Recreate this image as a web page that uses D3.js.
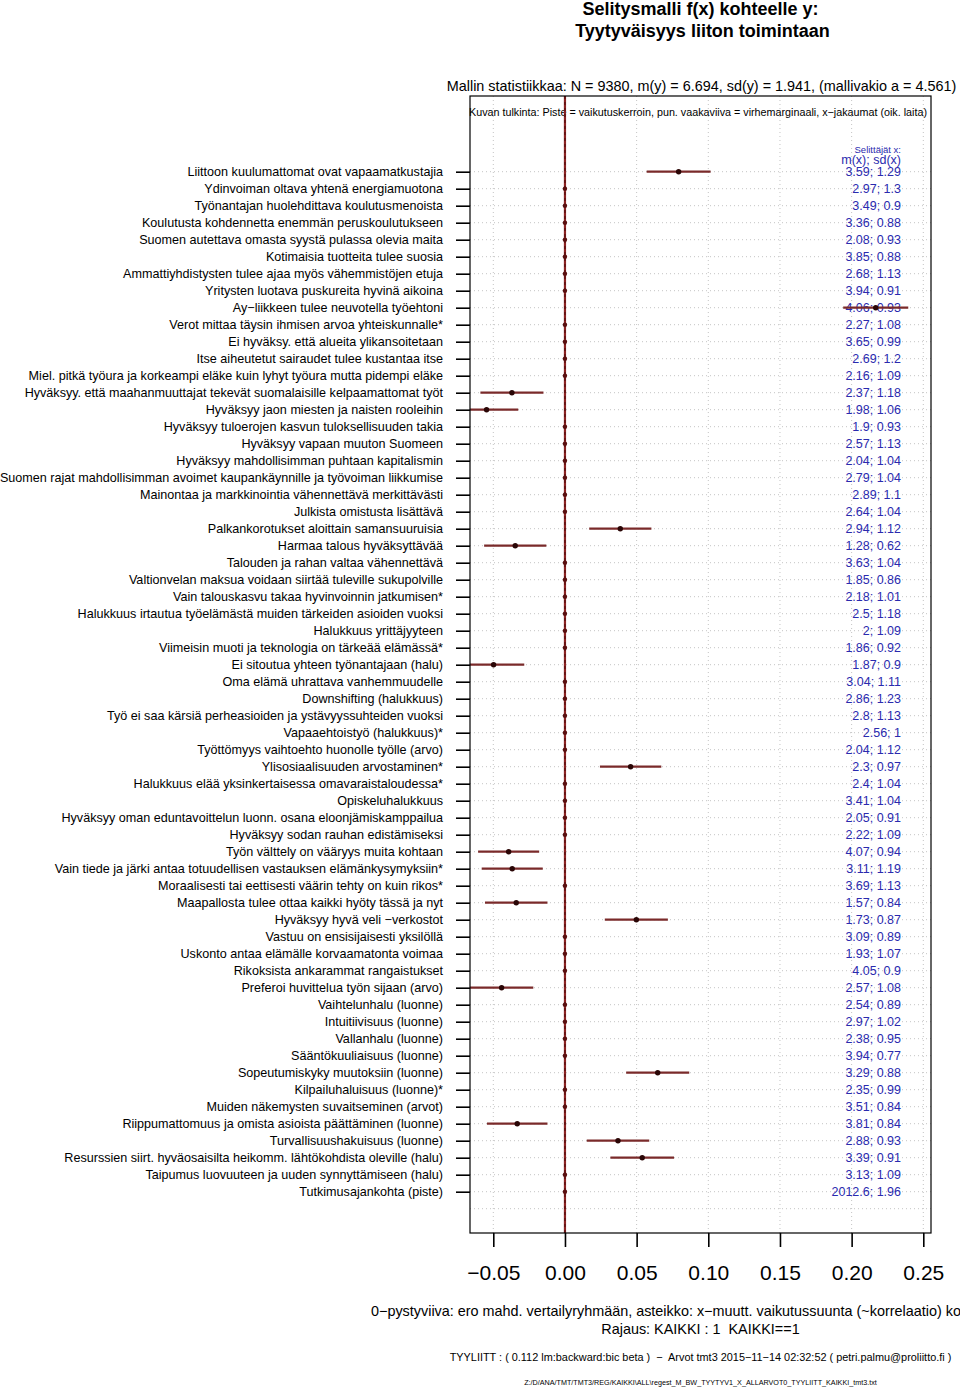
<!DOCTYPE html>
<html>
<head>
<meta charset="utf-8">
<script src="https://cdn.jsdelivr.net/npm/d3@7"></script>
<style>
  body { margin: 0; background: #fff; }
  svg { display: block; font-family: "Liberation Sans", Arial, Helvetica, sans-serif; }
  text { white-space: pre; }
</style>
</head>
<body>
<div id="chart"></div>
<script>
// selittäjät (ylhäältä alas)
const labels = [
  "Liittoon kuulumattomat ovat vapaamatkustajia",
  "Ydinvoiman oltava yhtenä energiamuotona",
  "Työnantajan huolehdittava koulutusmenoista",
  "Koulutusta kohdennetta enemmän peruskoulutukseen",
  "Suomen autettava omasta syystä pulassa olevia maita",
  "Kotimaisia tuotteita tulee suosia",
  "Ammattiyhdistysten tulee ajaa myös vähemmistöjen etuja",
  "Yritysten luotava puskureita hyvinä aikoina",
  "Ay−liikkeen tulee neuvotella työehtoni",
  "Verot mittaa täysin ihmisen arvoa yhteiskunnalle*",
  "Ei hyväksy. että alueita ylikansoitetaan",
  "Itse aiheutetut sairaudet tulee kustantaa itse",
  "Miel. pitkä työura ja korkeampi eläke kuin lyhyt työura mutta pidempi eläke",
  "Hyväksyy. että maahanmuuttajat tekevät suomalaisille kelpaamattomat työt",
  "Hyväksyy jaon miesten ja naisten rooleihin",
  "Hyväksyy tuloerojen kasvun tuloksellisuuden takia",
  "Hyväksyy vapaan muuton Suomeen",
  "Hyväksyy mahdollisimman puhtaan kapitalismin",
  "Suomen rajat mahdollisimman avoimet kaupankäynnille ja työvoiman liikkumise",
  "Mainontaa ja markkinointia vähennettävä merkittävästi",
  "Julkista omistusta lisättävä",
  "Palkankorotukset aloittain samansuuruisia",
  "Harmaa talous hyväksyttävää",
  "Talouden ja rahan valtaa vähennettävä",
  "Valtionvelan maksua voidaan siirtää tuleville sukupolville",
  "Vain talouskasvu takaa hyvinvoinnin jatkumisen*",
  "Halukkuus irtautua työelämästä muiden tärkeiden asioiden vuoksi",
  "Halukkuus yrittäjyyteen",
  "Viimeisin muoti ja teknologia on tärkeää elämässä*",
  "Ei sitoutua yhteen työnantajaan (halu)",
  "Oma elämä uhrattava vanhemmuudelle",
  "Downshifting (halukkuus)",
  "Työ ei saa kärsiä perheasioiden ja ystävyyssuhteiden vuoksi",
  "Vapaaehtoistyö (halukkuus)*",
  "Työttömyys vaihtoehto huonolle työlle (arvo)",
  "Ylisosiaalisuuden arvostaminen*",
  "Halukkuus elää yksinkertaisessa omavaraistaloudessa*",
  "Opiskeluhalukkuus",
  "Hyväksyy oman eduntavoittelun luonn. osana eloonjämiskamppailua",
  "Hyväksyy sodan rauhan edistämiseksi",
  "Työn välttely on vääryys muita kohtaan",
  "Vain tiede ja järki antaa totuudellisen vastauksen elämänkysymyksiin*",
  "Moraalisesti tai eettisesti väärin tehty on kuin rikos*",
  "Maapallosta tulee ottaa kaikki hyöty tässä ja nyt",
  "Hyväksyy hyvä veli −verkostot",
  "Vastuu on ensisijaisesti yksilöllä",
  "Uskonto antaa elämälle korvaamatonta voimaa",
  "Rikoksista ankarammat rangaistukset",
  "Preferoi huvittelua työn sijaan (arvo)",
  "Vaihtelunhalu (luonne)",
  "Intuitiivisuus (luonne)",
  "Vallanhalu (luonne)",
  "Sääntökuuliaisuus (luonne)",
  "Sopeutumiskyky muutoksiin (luonne)",
  "Kilpailuhaluisuus (luonne)*",
  "Muiden näkemysten suvaitseminen (arvot)",
  "Riippumattomuus ja omista asioista päättäminen (luonne)",
  "Turvallisuushakuisuus (luonne)",
  "Resurssien siirt. hyväosaisilta heikomm. lähtökohdista oleville (halu)",
  "Taipumus luovuuteen ja uuden synnyttämiseen (halu)",
  "Tutkimusajankohta (piste)"
];

// vaikutuskerroin (0 = ei mallissa)
const coef = [
  0.0793, 0, 0, 0, 0, 0, 0, 0, 0.2168, 0,
  0, 0, 0, -0.0370, -0.0547, 0, 0, 0, 0, 0,
  0, 0.0386, -0.0347, 0, 0, 0, 0, 0, 0, -0.0498,
  0, 0, 0, 0, 0, 0.0458, 0, 0, 0, 0,
  -0.0393, -0.0368, 0, -0.0340, 0.0498, 0, 0, 0, -0.0442, 0,
  0, 0, 0, 0.0647, 0, 0, -0.0333, 0.0370, 0.0539, 0,
  0
];

// virhemarginaali (puolet välistä)
const margin = [
  0.0223, 0, 0, 0, 0, 0, 0, 0, 0.0227, 0,
  0, 0, 0, 0.0220, 0.0221, 0, 0, 0, 0, 0,
  0, 0.0217, 0.0217, 0, 0, 0, 0, 0, 0, 0.0214,
  0, 0, 0, 0, 0, 0.0214, 0, 0, 0, 0,
  0.0213, 0.0213, 0, 0.0218, 0.0220, 0, 0, 0, 0.0221, 0,
  0, 0, 0, 0.0220, 0, 0, 0.0211, 0.0218, 0.0222, 0,
  0
];

// x-jakaumat: m(x) ja sd(x)
const meanX = ["3.59","2.97","3.49","3.36","2.08","3.85","2.68","3.94","4.06","2.27",
  "3.65","2.69","2.16","2.37","1.98","1.9","2.57","2.04","2.79","2.89",
  "2.64","2.94","1.28","3.63","1.85","2.18","2.5","2","1.86","1.87",
  "3.04","2.86","2.8","2.56","2.04","2.3","2.4","3.41","2.05","2.22",
  "4.07","3.11","3.69","1.57","1.73","3.09","1.93","4.05","2.57","2.54",
  "2.97","2.38","3.94","3.29","2.35","3.51","3.81","2.88","3.39","3.13",
  "2012.6"];
const sdX = ["1.29","1.3","0.9","0.88","0.93","0.88","1.13","0.91","0.93","1.08",
  "0.99","1.2","1.09","1.18","1.06","0.93","1.13","1.04","1.04","1.1",
  "1.04","1.12","0.62","1.04","0.86","1.01","1.18","1.09","0.92","0.9",
  "1.11","1.23","1.13","1","1.12","0.97","1.04","1.04","0.91","1.09",
  "0.94","1.19","1.13","0.84","0.87","0.89","1.07","0.9","1.08","0.89",
  "1.02","0.95","0.77","0.88","0.99","0.84","0.84","0.93","0.91","1.09",
  "1.96"];

const xTicks = [-0.05, 0, 0.05, 0.10, 0.15, 0.20, 0.25];

const W = 960, H = 1388;
const box = { left: 470, right: 931, top: 96, bottom: 1233 };

const svg = d3.select("#chart").append("svg")
  .attr("width", W).attr("height", H);

const x = d3.scaleLinear().domain([-0.05, 0.25]).range([493.3, 923.3]);
const y = d3.scalePoint().domain(d3.range(labels.length)).range([171.7, 1191.7]);
const step = y.step();

svg.append("defs").append("clipPath").attr("id", "clip")
  .append("rect")
  .attr("x", box.left).attr("y", box.top)
  .attr("width", box.right - box.left).attr("height", box.bottom - box.top);

// otsikot
const cx = (box.left + box.right) / 2;
svg.append("text").attr("x", cx).attr("y", 15)
  .attr("text-anchor", "middle").attr("font-size", 18).attr("font-weight", "bold")
  .text("Selitysmalli f(x) kohteelle y:");
svg.append("text").attr("x", cx + 2).attr("y", 36.5)
  .attr("text-anchor", "middle").attr("font-size", 18).attr("font-weight", "bold")
  .text("Tyytyväisyys liiton toimintaan");
svg.append("text").attr("x", cx + 1).attr("y", 91)
  .attr("text-anchor", "middle").attr("font-size", 14.4)
  .text("Mallin statistiikkaa: N = 9380, m(y) = 6.694, sd(y) = 1.941, (mallivakio a = 4.561)");

// ruudukko
const grid = svg.append("g").attr("clip-path", "url(#clip)");
grid.selectAll("line.v")
  .data(xTicks.filter(d => d !== 0))
  .enter().append("line")
  .attr("x1", d => x(d)).attr("x2", d => x(d))
  .attr("y1", box.top).attr("y2", box.bottom)
  .attr("stroke", "#c4c4c4").attr("stroke-dasharray", "1,3");
grid.selectAll("line.h")
  .data(d3.range(labels.length + 1))
  .enter().append("line")
  .attr("x1", box.left).attr("x2", box.right)
  .attr("y1", d => y(0) + d * step).attr("y2", d => y(0) + d * step)
  .attr("stroke", "#c4c4c4").attr("stroke-dasharray", "1,3");

svg.append("text").attr("x", 698).attr("y", 115.5)
  .attr("text-anchor", "middle").attr("font-size", 10.75)
  .text("Kuvan tulkinta: Piste = vaikutuskerroin, pun. vaakaviiva = virhemarginaali, x−jakaumat (oik. laita)");

// nollaviiva
svg.append("line")
  .attr("x1", x(0)).attr("x2", x(0)).attr("y1", box.top).attr("y2", box.bottom)
  .attr("stroke", "#8b2323").attr("stroke-width", 2.2);
svg.append("line")
  .attr("x1", x(0)).attr("x2", x(0)).attr("y1", box.top).attr("y2", box.bottom)
  .attr("stroke", "#4a0808").attr("stroke-width", 1).attr("stroke-dasharray", "3,3");

// x-jakaumat oikealla
const vx = 901;
svg.append("text").attr("x", vx).attr("y", 152.5)
  .attr("text-anchor", "end").attr("font-size", 9.5).attr("fill", "#2a2aae")
  .text("Selittäjät x:");
svg.append("text").attr("x", vx).attr("y", 163.5)
  .attr("text-anchor", "end").attr("font-size", 12.5).attr("fill", "#2a2aae")
  .text("m(x); sd(x)");
svg.append("g").selectAll("text")
  .data(labels)
  .enter().append("text")
  .attr("x", vx).attr("y", (d, i) => y(i)).attr("dy", "0.36em")
  .attr("text-anchor", "end").attr("font-size", 12.5).attr("fill", "#2a2aae")
  .text((d, i) => meanX[i] + "; " + sdX[i]);

// virhemarginaalit ja pisteet
const marks = svg.append("g").attr("clip-path", "url(#clip)");
const est = labels.map((d, i) => ({ i: i, b: coef[i], m: margin[i] }));
marks.selectAll("line.ci")
  .data(est.filter(d => d.m > 0))
  .enter().append("line")
  .attr("x1", d => x(d.b - d.m)).attr("x2", d => x(d.b + d.m))
  .attr("y1", d => y(d.i)).attr("y2", d => y(d.i))
  .attr("stroke", "#7a2a2a").attr("stroke-width", 2.2);
marks.selectAll("circle")
  .data(est)
  .enter().append("circle")
  .attr("cx", d => x(d.b)).attr("cy", d => y(d.i))
  .attr("r", d => d.m > 0 ? 2.7 : 2.2)
  .attr("fill", d => d.m > 0 ? "#2a0606" : "#5a1010");

// kehys
svg.append("rect")
  .attr("x", box.left).attr("y", box.top)
  .attr("width", box.right - box.left).attr("height", box.bottom - box.top)
  .attr("fill", "none").attr("stroke", "#000").attr("stroke-width", 1.2);

// y-akseli
const yAxis = d3.axisLeft(y).tickSize(14).tickPadding(13).tickFormat(i => labels[i]);
const gy = svg.append("g").attr("transform", `translate(${box.left},0)`).call(yAxis);
gy.select(".domain").remove();
gy.selectAll(".tick line").attr("stroke", "#000").attr("stroke-width", 1.6);
gy.selectAll(".tick text").attr("font-size", 12.6).attr("fill", "#000")
  .attr("font-family", "'Liberation Sans', Arial, sans-serif");

// x-akseli
const xAxis = d3.axisBottom(x).tickValues(xTicks).tickSize(14).tickPadding(18)
  .tickFormat(d => d3.format(".2f")(d).replace("-", "−"));
const gx = svg.append("g").attr("transform", `translate(0,${box.bottom})`).call(xAxis);
gx.select(".domain").remove();
gx.selectAll(".tick line").attr("stroke", "#000").attr("stroke-width", 1.6);
gx.selectAll(".tick text").attr("font-size", 21).attr("fill", "#000")
  .attr("font-family", "'Liberation Sans', Arial, sans-serif");

// alatekstit
svg.append("text").attr("x", 371).attr("y", 1315.5)
  .attr("font-size", 14.4)
  .text("0−pystyviiva: ero mahd. vertailyryhmään, asteikko: x−muutt. vaikutussuunta (~korrelaatio) ko");
svg.append("text").attr("x", cx).attr("y", 1333.5)
  .attr("text-anchor", "middle").attr("font-size", 14.4)
  .text("Rajaus: KAIKKI : 1  KAIKKI==1");
svg.append("text").attr("x", cx).attr("y", 1360.5)
  .attr("text-anchor", "middle").attr("font-size", 10.9)
  .text("TYYLIITT : ( 0.112 lm:backward:bic beta )  −  Arvot tmt3 2015−11−14 02:32:52 ( petri.palmu@proliitto.fi )");
svg.append("text").attr("x", cx).attr("y", 1385)
  .attr("text-anchor", "middle").attr("font-size", 7.2)
  .text("Z:/D/ANA/TMT/TMT3/REG/KAIKKI\\ALL\\regest_M_BW_TYYTYV1_X_ALLARVOT0_TYYLIITT_KAIKKI_tmt3.txt");
</script>
</body>
</html>
